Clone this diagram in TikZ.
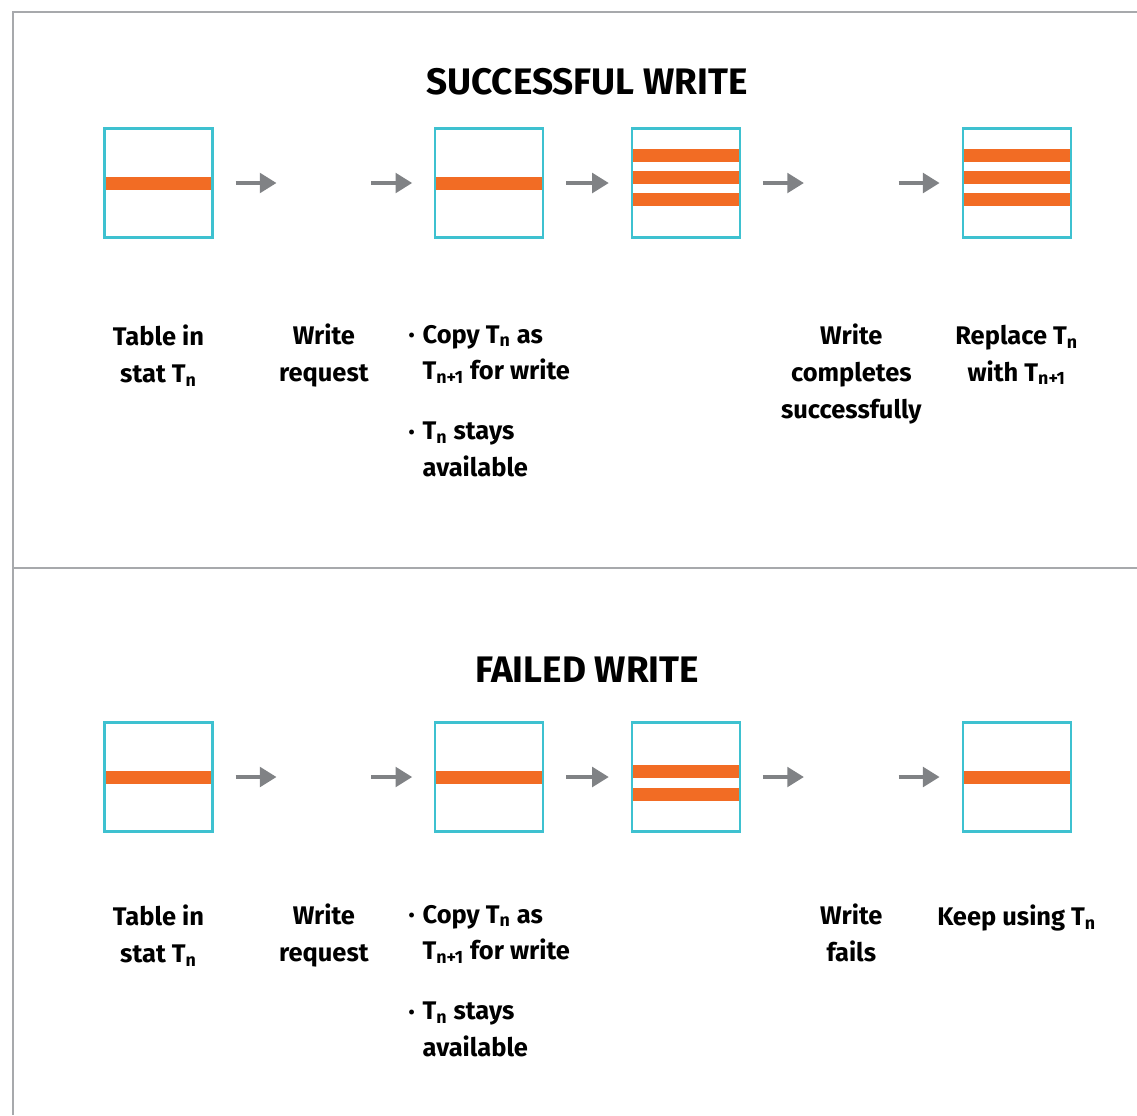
\documentclass[tikz,border=0pt]{standalone}
\usepackage{fontspec}
\setsansfont{Fira Sans}
\usepackage{xcolor}
\usetikzlibrary{arrows.meta,positioning}

\definecolor{tblcyan}{HTML}{3EC1D0}
\definecolor{rowred}{HTML}{F26C24}
\definecolor{arrgray}{HTML}{808285}
\definecolor{framegray}{HTML}{A7A9AC}

% bullet and hanging indent for the step notes
\newcommand{\itembul}{\makebox[8pt][l]{\raisebox{1pt}{\fontsize{10}{10}\selectfont\textbullet}}}
\newcommand{\itemind}{\hspace*{8pt}}

\begin{document}
\begin{tikzpicture}[
  font=\sffamily\bfseries\fontsize{14.5}{21}\selectfont,
  node distance=1.70cm,
  tbl/.style={draw=tblcyan, line width=1.2pt, minimum width=2.16cm, minimum height=2.18cm, inner sep=0pt},
  slot/.style={minimum width=1cm, minimum height=2.18cm, inner sep=0pt},
  lbl/.style={align=center, inner sep=0pt},
  title/.style={font=\sffamily\bfseries\fontsize{21}{25}\selectfont},
  arr/.style={draw=arrgray, line width=2.6pt, -{Triangle[length=9.5pt,width=11pt]}, shorten <=0.44cm, shorten >=0.44cm},
  row/.style={fill=rowred},
  frame/.style={draw=framegray, line width=1.1pt}
]
\useasboundingbox (0,0) rectangle (22.74,-22.3);

% outer frame and divider
\draw[frame] (0.26,-22.3) |- (22.74,-0.24);
\draw[frame] (0.26,-11.36) -- (22.74,-11.36);

%% successful write
\node[title] (h1) at (11.74,-1.64) {SUCCESSFUL WRITE};

\node[tbl] (s1) at (3.17,-3.66) {};
\node[slot, right=of s1] (s2) {};
\node[tbl, right=of s2] (s3) {};
\node[tbl, right=1.73cm of s3] (s4) {};
\node[slot, right=of s4] (s5) {};
\node[tbl, right=of s5] (s6) {};

\fill[row] ([xshift=1.2pt,yshift=-0.13cm]s1.west) rectangle ([xshift=-1.2pt,yshift=0.13cm]s1.east);
\fill[row] ([xshift=1.2pt,yshift=-0.13cm]s3.west) rectangle ([xshift=-1.2pt,yshift=0.13cm]s3.east);
\foreach \dy in {0.56,0.11,-0.33} {
  \fill[row] ([xshift=1.2pt,yshift=\dy cm-0.13cm]s4.west) rectangle ([xshift=-1.2pt,yshift=\dy cm+0.13cm]s4.east);
  \fill[row] ([xshift=1.2pt,yshift=\dy cm-0.13cm]s6.west) rectangle ([xshift=-1.2pt,yshift=\dy cm+0.13cm]s6.east);
}

\draw[arr] (s1) -- (s2);
\draw[arr] (s2) -- (s3);
\draw[arr] (s3) -- (s4);
\draw[arr] (s4) -- (s5);
\draw[arr] (s5) -- (s6);

\node[lbl, below=1.72cm of s1] (sl1) {Table in\\stat T\textsubscript{n}};
\node[lbl, below=1.72cm of s2] (sl2) {Write\\request};
\node[lbl, align=left, below=1.72cm of s3] (sl3) {\itembul Copy T\textsubscript{n} as\\\itemind T\textsubscript{n+1} for write\\[0.46cm]\itembul T\textsubscript{n} stays\\\itemind available};
\node[lbl, below=1.72cm of s5] (sl5) {Write\\completes\\successfully};
\node[lbl, below=1.72cm of s6] (sl6) {Replace T\textsubscript{n}\\with T\textsubscript{n+1}};

%% failed write
\node[title] (h2) at (11.74,-13.4) {FAILED WRITE};

\node[tbl] (f1) at (3.17,-15.54) {};
\node[slot, right=of f1] (f2) {};
\node[tbl, right=of f2] (f3) {};
\node[tbl, right=1.73cm of f3] (f4) {};
\node[slot, right=of f4] (f5) {};
\node[tbl, right=of f5] (f6) {};

\fill[row] ([xshift=1.2pt,yshift=-0.13cm]f1.west) rectangle ([xshift=-1.2pt,yshift=0.13cm]f1.east);
\fill[row] ([xshift=1.2pt,yshift=-0.13cm]f3.west) rectangle ([xshift=-1.2pt,yshift=0.13cm]f3.east);
\fill[row] ([xshift=1.2pt,yshift=-0.13cm]f6.west) rectangle ([xshift=-1.2pt,yshift=0.13cm]f6.east);
\foreach \dy in {0.12,-0.34}
  \fill[row] ([xshift=1.2pt,yshift=\dy cm-0.13cm]f4.west) rectangle ([xshift=-1.2pt,yshift=\dy cm+0.13cm]f4.east);

\draw[arr] (f1) -- (f2);
\draw[arr] (f2) -- (f3);
\draw[arr] (f3) -- (f4);
\draw[arr] (f4) -- (f5);
\draw[arr] (f5) -- (f6);

\node[lbl, below=1.44cm of f1] (fl1) {Table in\\stat T\textsubscript{n}};
\node[lbl, below=1.44cm of f2] (fl2) {Write\\request};
\node[lbl, align=left, below=1.44cm of f3] (fl3) {\itembul Copy T\textsubscript{n} as\\\itemind T\textsubscript{n+1} for write\\[0.46cm]\itembul T\textsubscript{n} stays\\\itemind available};
\node[lbl, below=1.44cm of f5] (fl5) {Write\\fails};
\node[lbl, below=1.44cm of f6] (fl6) {Keep using T\textsubscript{n}};
\end{tikzpicture}
\end{document}
